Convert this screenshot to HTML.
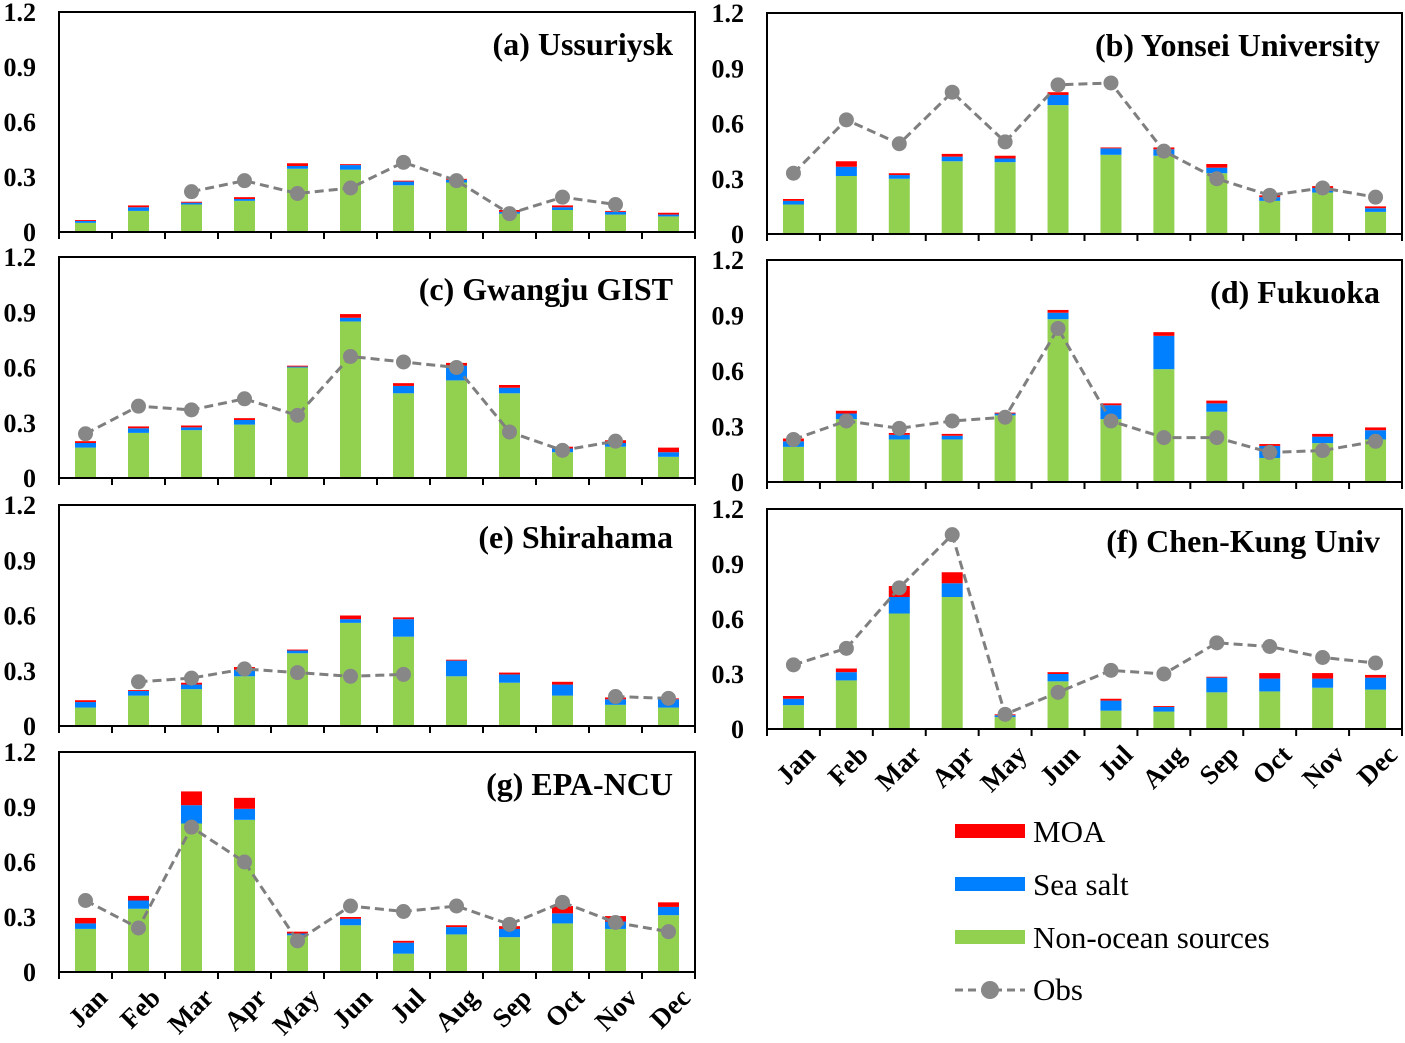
<!DOCTYPE html>
<html><head><meta charset="utf-8"><style>
html,body{margin:0;padding:0;background:#fff;}
svg, svg text{font-family:"Liberation Serif","DejaVu Serif",serif;}
</style></head><body>
<svg id="chart" width="1405" height="1038" viewBox="0 0 1405 1038" xmlns="http://www.w3.org/2000/svg" font-family="Liberation Serif, serif">
<g id="panels"></g>
<g id="legend">
  <rect x="955" y="824" width="70" height="14" fill="#FF0000"/>
  <text x="1033" y="842" font-size="31">MOA</text>
  <rect x="955" y="877" width="70" height="14" fill="#0080FF"/>
  <text x="1033" y="895" font-size="31">Sea salt</text>
  <rect x="955" y="930" width="70" height="14" fill="#92D050"/>
  <text x="1033" y="948" font-size="31">Non-ocean sources</text>
  <line x1="955" y1="990" x2="1025" y2="990" stroke="#808080" stroke-width="3" stroke-dasharray="8,5"/>
  <circle cx="990" cy="990" r="9" fill="#888"/>
  <text x="1033" y="1000" font-size="31">Obs</text>
</g>
</svg>
<script>
const months = ["Jan","Feb","Mar","Apr","May","Jun","Jul","Aug","Sep","Oct","Nov","Dec"];
const yTicks = [0, 0.3, 0.6, 0.9, 1.2];
const yTickLabels = ["0","0.3","0.6","0.9","1.2"];
const titles = ["(a) Ussuriysk","(b) Yonsei University","(c) Gwangju GIST","(d) Fukuoka","(e) Shirahama","(f) Chen-Kung Univ","(g) EPA-NCU"];

const greenA = [.05,.115,.15,.17,.345,.34,.255,.27,.10,.12,.095,.085];
const blueA  = [.01,.02,.01,.01,.015,.025,.02,.015,.01,.015,.015,.01];
const redA   = [.005,.01,.005,.01,.015,.005,.005,.005,.01,.01,.005,.01];
const obsA   = [null,null,.22,.28,.21,.24,.38,.28,.10,.19,.15,null];

const greenB = [.16,.315,.30,.395,.39,.70,.43,.425,.33,.18,.225,.12];
const blueB  = [.02,.05,.02,.025,.02,.055,.035,.035,.03,.02,.025,.02];
const redB   = [.01,.03,.01,.015,.015,.015,.005,.01,.02,.01,.01,.01];
const obsB   = [.33,.62,.49,.77,.50,.81,.82,.45,.30,.21,.25,.20];

const greenC = [.165,.245,.26,.29,.60,.85,.46,.53,.46,.14,.17,.115];
const blueC  = [.025,.025,.015,.025,.005,.02,.04,.08,.03,.02,.02,.025];
const redC   = [.01,.01,.01,.01,.005,.02,.015,.015,.015,.01,.015,.025];
const obsC   = [.24,.39,.37,.43,.34,.66,.63,.60,.25,.15,.20,null];

const greenD = [.19,.34,.23,.23,.36,.88,.34,.61,.38,.13,.21,.23];
const blueD  = [.03,.03,.025,.02,.01,.035,.075,.18,.045,.065,.035,.05];
const redD   = [.015,.015,.01,.01,.005,.015,.01,.02,.015,.01,.015,.015];
const obsD   = [.23,.33,.29,.33,.35,.83,.33,.24,.24,.16,.17,.22];

const greenE = [.10,.165,.20,.27,.395,.56,.485,.27,.235,.165,.115,.10];
const blueE  = [.03,.025,.025,.035,.015,.02,.095,.085,.045,.06,.03,.045];
const redE   = [.01,.005,.01,.015,.005,.02,.01,.005,.01,.015,.01,.005];
const obsE   = [null,.24,.26,.31,.29,.27,.28,null,null,null,.16,.15];

const greenF = [.13,.265,.63,.72,.065,.26,.10,.095,.20,.205,.225,.215];
const blueF  = [.035,.045,.09,.075,.01,.04,.055,.025,.08,.07,.05,.065];
const redF   = [.015,.02,.06,.06,.005,.01,.01,.005,.005,.03,.03,.015];
const obsF   = [.35,.44,.77,1.06,.08,.20,.32,.30,.47,.45,.39,.36];

const greenG = [.235,.345,.81,.83,.20,.255,.10,.205,.19,.265,.235,.31];
const blueG  = [.03,.045,.10,.06,.01,.035,.06,.04,.045,.055,.04,.045];
const redG   = [.03,.025,.075,.06,.01,.01,.01,.01,.015,.04,.03,.025];
const obsG   = [.39,.24,.79,.60,.17,.36,.33,.36,.26,.38,.27,.22];

const greens = [greenA,greenB,greenC,greenD,greenE,greenF,greenG];
const blues  = [blueA,blueB,blueC,blueD,blueE,blueF,blueG];
const reds   = [redA,redB,redC,redD,redE,redF,redG];
const obss   = [obsA,obsB,obsC,obsD,obsE,obsF,obsG];

// layout (pixel geometry, not data)
const frames = [
  {x0:59,x1:695,yT:12,yB:232},
  {x0:767,x1:1402,yT:13,yB:234},
  {x0:59,x1:695,yT:257,yB:478},
  {x0:767,x1:1402,yT:260,yB:482},
  {x0:59,x1:695,yT:505,yB:726},
  {x0:767,x1:1402,yT:509,yB:729},
  {x0:59,x1:695,yT:752,yB:972}
];
const showMonths = [false,false,false,false,false,true,true];
const NS = "http://www.w3.org/2000/svg";
const root = document.getElementById("panels");
function mk(tag, attrs, parent){
  const e = document.createElementNS(NS, tag);
  for (const k in attrs) e.setAttribute(k, attrs[k]);
  parent.appendChild(e);
  return e;
}
const keys = ["a","b","c","d","e","f","g"];
frames.forEach((f, p) => {
  const g = mk("g", {}, root);
  
  
  const band = (f.x1 - f.x0) / months.length;
  const xc = i => f.x0 + band * (i + 0.5);
  const yv = v => f.yB - (v / 1.2) * (f.yB - f.yT);
  const bw = 21;
  months.forEach((m, i) => {
    const segs = [[greens[p][i], "#92D050", "non-ocean"], [blues[p][i], "#0080FF", "sea-salt"], [reds[p][i], "#FF0000", "moa"]];
    let base = 0;
    segs.forEach(s => {
      const r = mk("rect", {x: xc(i) - bw/2, y: yv(base + s[0]), width: bw, height: yv(base) - yv(base + s[0]), fill: s[1]}, g);
      
      
      base += s[0];
    });
  });
  const fr = mk("rect", {x: f.x0, y: f.yT, width: f.x1 - f.x0, height: f.yB - f.yT, fill: "none", stroke: "#000", "stroke-width": 2}, g);
  
  
  for (let i = 0; i <= months.length; i++) {
    const t = mk("line", {x1: f.x0 + band*i, x2: f.x0 + band*i, y1: f.yB, y2: f.yB + 7, stroke: "#000", "stroke-width": 2}, g);
    
    
  }
  yTicks.forEach((v, k) => {
    const t = mk("text", {x: f.x0 - 23, y: yv(v) + 9, "text-anchor": "end", "font-size": 26, "font-weight": "bold", "font-family": "Liberation Serif, serif"}, g);
    t.textContent = yTickLabels[k];
    
    
  });
  const ob = obss[p];
  let seg = [];
  const segsList = [];
  ob.forEach((v, i) => { if (v === null) { if (seg.length) segsList.push(seg); seg = []; } else seg.push([xc(i), yv(v)]); });
  if (seg.length) segsList.push(seg);
  segsList.forEach(s => {
    if (s.length < 2) return;
    const pl = mk("polyline", {points: s.map(q => q.join(",")).join(" "), fill: "none", stroke: "#7F7F7F", "stroke-width": 3, "stroke-dasharray": "9,5"}, g);
    
    
  });
  ob.forEach((v, i) => {
    if (v === null) return;
    const c = mk("circle", {cx: xc(i), cy: yv(v), r: 7.5, fill: "#878787"}, g);
    
    
  });
  const tt = mk("text", {x: f.x1 - 22, y: f.yT + 43, "text-anchor": "end", "font-size": 32, "font-weight": "bold", "font-family": "Liberation Serif, serif"}, g);
  tt.textContent = titles[p];
  
  
  if (showMonths[p]) {
    months.forEach((m, i) => {
      const x = xc(i) + 10, y = f.yB + 14;
      const t = mk("text", {x: x, y: y, "text-anchor": "end", "font-size": 27, "font-weight": "bold", "font-family": "Liberation Serif, serif", transform: "rotate(-45 " + x + " " + y + ")", dy: "0.7em"}, g);
      t.textContent = m;
      
      
    });
  }
});
</script>
</body></html>
